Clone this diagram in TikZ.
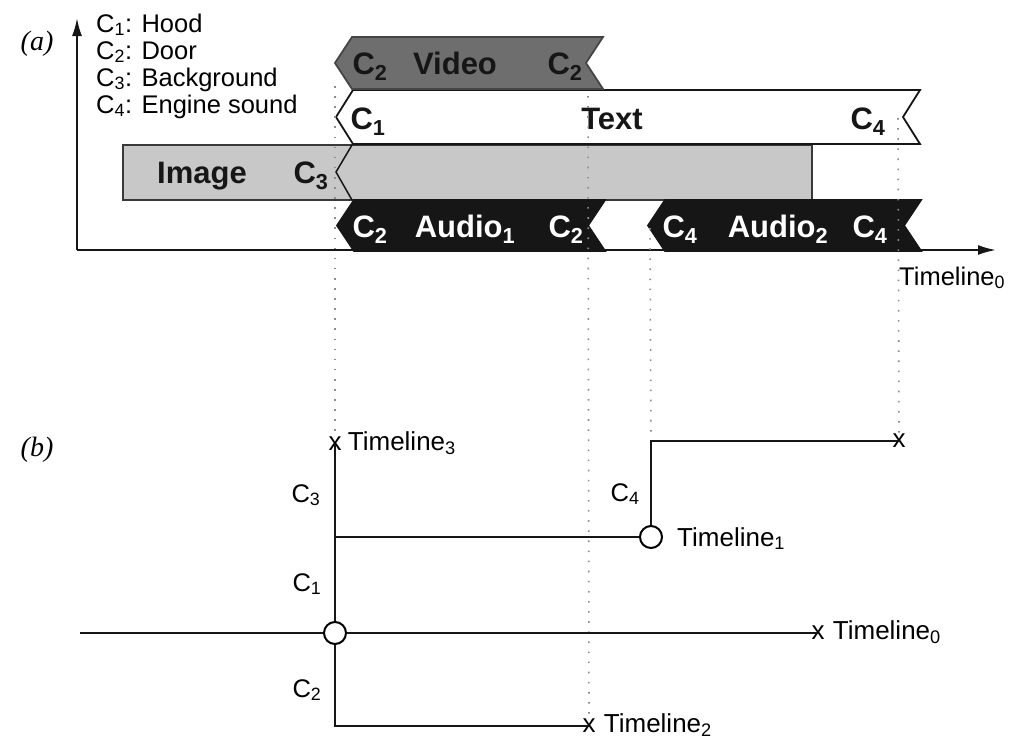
\documentclass[tikz,border=0pt]{standalone}
\usepackage{fontspec}
\setmainfont{Liberation Sans}
\newfontfamily\capfont{Liberation Serif}
\usepackage{tikz}
\usetikzlibrary{arrows.meta,positioning}
\usepackage{xcolor}
\definecolor{videogray}{HTML}{6E6E6E}
\definecolor{imagegray}{HTML}{C8C8C8}
\definecolor{inkblack}{HTML}{161616}
\definecolor{dotgray}{HTML}{8C8C8C}

% one media band: pointed start, notched end
\newcommand{\band}[5]{%
  \draw[#5] ({#1+17},#3) -- (#2,#3) -- ({#2-17},{(#3+#4)/2}) -- (#2,#4)
    -- ({#1+17},#4) -- (#1,{(#3+#4)/2}) -- cycle;}

\begin{document}
\begin{tikzpicture}[x=1pt, y=-1pt, >={Latex[length=18pt,width=10pt]},
  key/.style={font=\fontsize{25.5}{30}\selectfont, anchor=west, inner sep=0pt, text height=18pt, text depth=0pt},
  seg/.style={font=\fontsize{25.5}{30}\selectfont, inner sep=0pt, text height=18pt, text depth=0pt},
  tag/.style={font=\fontsize{31}{36}\selectfont\bfseries, text=inkblack, inner sep=0pt, text height=22pt, text depth=0pt},
  audiotag/.style={font=\fontsize{31}{36}\selectfont\bfseries, text=white, inner sep=0pt, text height=22pt, text depth=0pt},
  tlabel/.style={font=\fontsize{26}{30}\selectfont, inner sep=0pt, anchor=base west},
  xmark/.style={font=\fontsize{26}{30}\selectfont, inner sep=0pt, text height=13pt, text depth=0pt},
  hub/.style={circle, draw, fill=white, line width=2pt, minimum size=22pt, inner sep=0pt},
  tline/.style={line width=2pt, inkblack},
  guide/.style={dotgray, line width=1.6pt, dash pattern=on 1.6pt off 8.5pt},
  videoband/.style={fill=videogray, draw=inkblack!80, line width=1.8pt},
  textband/.style={fill=white, draw=inkblack, line width=1.8pt},
  audioband/.style={fill=inkblack, draw=inkblack, line width=1.8pt},
  panel/.style={font=\capfont\itshape\fontsize{28}{30}\selectfont, inner sep=0pt}]
  \useasboundingbox (0,0) rectangle (1012,740);

  % (a) media timeline
  \node[panel] (pa) at (37,44) {(a)};
  \coordinate (origin) at (77,250);
  \coordinate (ytop) at (77,18);
  \coordinate (xend) at (996,250);
  \draw[->, line width=2pt, inkblack] (origin) -- (ytop);
  \draw[->, line width=2pt, inkblack] (origin) -- (xend);

  \node[key] (k1) at (96,23) {C\textsubscript{1}: Hood};
  \node[key] (k2) at (96,50) {C\textsubscript{2}: Door};
  \node[key] (k3) at (96,77) {C\textsubscript{3}: Background};
  \node[key] (k4) at (96,104) {C\textsubscript{4}: Engine sound};

  \draw[fill=imagegray, draw=inkblack!85, line width=1.8pt] (123,145) rectangle (812,200);
  \draw[inkblack, line width=1.5pt] (352,145) -- (336,172) -- (352,200);
  \band{336}{920}{90}{144}{textband}
  \band{335}{603}{37}{89}{videoband}
  \band{337}{605}{200}{251}{audioband}
  \band{648}{921}{200}{251}{audioband}

  \node[tag] (v1) at (370,63) {C\textsubscript{2}};
  \node[tag] (v2) at (455,63) {Video};
  \node[tag] (v3) at (565,63) {C\textsubscript{2}};
  \node[tag] (s1) at (368,118) {C\textsubscript{1}};
  \node[tag] (s2) at (612,118) {Text};
  \node[tag] (s3) at (868,118) {C\textsubscript{4}};
  \node[tag] (i1) at (202,172) {Image};
  \node[tag] (i2) at (311,172) {C\textsubscript{3}};
  \node[audiotag] (a1) at (370,226) {C\textsubscript{2}};
  \node[audiotag] (a2) at (465,226) {Audio\textsubscript{1}};
  \node[audiotag] (a3) at (566,226) {C\textsubscript{2}};
  \node[audiotag] (b1) at (680,226) {C\textsubscript{4}};
  \node[audiotag] (b2) at (778,226) {Audio\textsubscript{2}};
  \node[audiotag] (b3) at (870,226) {C\textsubscript{4}};
  \node[seg, anchor=west] (ta0) at (899,276) {Timeline\textsubscript{0}};

  % (b) timeline tree
  \node[panel] (pb) at (37,450) {(b)};
  \coordinate (w0) at (80,633);
  \coordinate (j1) at (335,537);
  \node[hub] (o0) at (335,633) {};
  \node[hub] (o1) at (651,537) {};
  \node[xmark] (t0) at (818,633) {x};
  \node[xmark] (t2) at (589,726) {x};
  \node[xmark] (t3) at (335,444) {x};
  \node[xmark] (t4) at (899,441) {x};
  \coordinate (c4) at (651,441);

  \draw[guide] (335,86) -- (t3.north);
  \draw[guide] (588,96) -- (t2.north);
  \draw[guide] (650,228) -- (c4);
  \draw[guide] (898,118) -- (t4.north);

  \draw[tline] (w0) -- (o0) -- (t0.center);
  \draw[tline] (o0) -- (t3.center);
  \draw[tline] (o0) |- (t2.center);
  \draw[tline] (j1) -- (o1);
  \draw[tline] (o1) |- (t4.center);

  \node[tlabel] (l0) at ([xshift=8pt]t0.base east) {Timeline\textsubscript{0}};
  \node[tlabel] (l2) at ([xshift=8pt]t2.base east) {Timeline\textsubscript{2}};
  \node[tlabel] (l3) at ([xshift=6pt]t3.base east) {Timeline\textsubscript{3}};
  \node[tlabel] (l1) at ([xshift=14pt,yshift=-9pt]o1.east) {Timeline\textsubscript{1}};

  \node[seg] (g3) at (306,493) {C\textsubscript{3}};
  \node[seg] (g1) at (307,582) {C\textsubscript{1}};
  \node[seg] (g2) at (307,688) {C\textsubscript{2}};
  \node[seg] (g4) at (625,492) {C\textsubscript{4}};
\end{tikzpicture}
\end{document}
